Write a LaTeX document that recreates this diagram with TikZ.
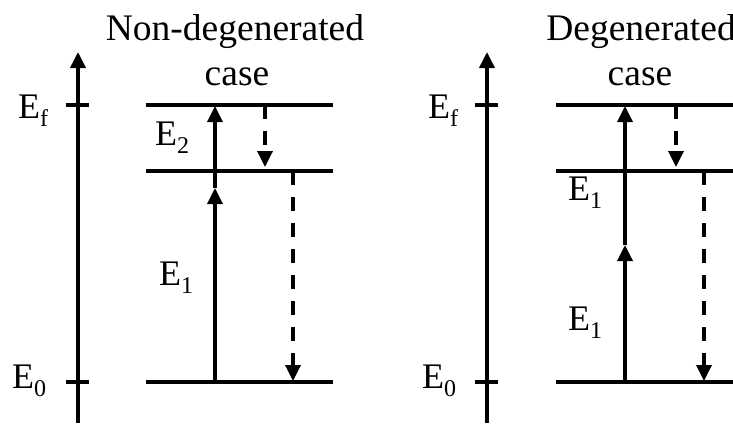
\documentclass[tikz,border=0pt]{standalone}
\usepackage{fontspec}
\setmainfont{Liberation Serif}
\usetikzlibrary{arrows.meta}
\newcommand{\lsub}[1]{\raisebox{-8pt}{\fontsize{24}{24}\selectfont #1}}
\tikzset{
  lbl/.style={anchor=base west, inner sep=0pt, font=\fontsize{36}{40}\selectfont},
  ttl/.style={anchor=base, inner sep=0pt, font=\fontsize{37.5}{42}\selectfont},
  thick line/.style={line width=3.4pt},
  axisarrow/.style={line width=3.6pt, -{Triangle[width=15pt,length=16pt]}},
  uparrow/.style={line width=3.4pt, -{Triangle[width=15pt,length=16pt]}},
  dasharrow/.style={line width=3.4pt, dash pattern=on 14pt off 12pt, -{Triangle[width=15pt,length=16pt]}},
}
\begin{document}
\begin{tikzpicture}[x=1pt,y=-1pt]
\useasboundingbox (0,0) rectangle (733,423);
% ---------------- left panel ----------------
\coordinate (la0) at (78,423);
\coordinate (la1) at (78,52);
\draw[axisarrow] (la0) -- (la1);
\coordinate (ltf1) at (66,105); \coordinate (ltf2) at (89,105);
\coordinate (lt01) at (66,382); \coordinate (lt02) at (89,382);
\draw[thick line] (ltf1) -- (ltf2);
\draw[thick line] (lt01) -- (lt02);
\coordinate (lft) at (146,105); \coordinate (rgt) at (333,105);
\coordinate (lmi) at (146,171); \coordinate (rmi) at (333,171);
\coordinate (lbo) at (146,382); \coordinate (rbo) at (333,382);
\draw[thick line] (lft) -- (rgt);
\draw[thick line] (lmi) -- (rmi);
\draw[thick line] (lbo) -- (rbo);
\coordinate (s0) at (215,382); \coordinate (s1) at (215,188); \coordinate (s2) at (215,106);
\draw[uparrow] (s0) -- (s1);
\draw[uparrow] (s1) -- (s2);
\coordinate (d1a) at (265,105); \coordinate (d1b) at (265,167);
\draw[dasharrow] (d1a) -- (d1b);
\coordinate (d2a) at (293,171); \coordinate (d2b) at (293,381);
\draw[dasharrow] (d2a) -- (d2b);
\node[lbl] (lEf) at (18,118) {E\lsub{f}};
\node[lbl] (lE0) at (12,388) {E\lsub{0}};
\node[lbl] (lE2) at (155,145) {E\lsub{2}};
\node[lbl] (lE1) at (159,285) {E\lsub{1}};
\node[ttl] (lt1) at (235,40) {Non-degenerated};
\node[ttl] (lt2) at (237,85) {case};
% ---------------- right panel ----------------
\coordinate (ra0) at (487,423);
\coordinate (ra1) at (487,52);
\draw[axisarrow] (ra0) -- (ra1);
\coordinate (rtf1) at (475,105); \coordinate (rtf2) at (498,105);
\coordinate (rt01) at (475,382); \coordinate (rt02) at (498,382);
\draw[thick line] (rtf1) -- (rtf2);
\draw[thick line] (rt01) -- (rt02);
\coordinate (Rlft) at (556,105); \coordinate (Rrgt) at (733,105);
\coordinate (Rlmi) at (556,171); \coordinate (Rrmi) at (733,171);
\coordinate (Rlbo) at (556,382); \coordinate (Rrbo) at (733,382);
\draw[thick line] (Rlft) -- (Rrgt);
\draw[thick line] (Rlmi) -- (Rrmi);
\draw[thick line] (Rlbo) -- (Rrbo);
\coordinate (Rs0) at (625,382); \coordinate (Rs1) at (625,245); \coordinate (Rs2) at (625,106);
\draw[uparrow] (Rs0) -- (Rs1);
\draw[uparrow] (Rs1) -- (Rs2);
\coordinate (Rd1a) at (676,105); \coordinate (Rd1b) at (676,167);
\draw[dasharrow] (Rd1a) -- (Rd1b);
\coordinate (Rd2a) at (704,171); \coordinate (Rd2b) at (704,381);
\draw[dasharrow] (Rd2a) -- (Rd2b);
\node[lbl] (rEf) at (428,118) {E\lsub{f}};
\node[lbl] (rE0) at (422,388) {E\lsub{0}};
\node[lbl] (rE1a) at (568,200) {E\lsub{1}};
\node[lbl] (rE1b) at (568,330) {E\lsub{1}};
\node[ttl] (rt1) at (641,40) {Degenerated};
\node[ttl] (rt2) at (640,85) {case};
\end{tikzpicture}
\end{document}
